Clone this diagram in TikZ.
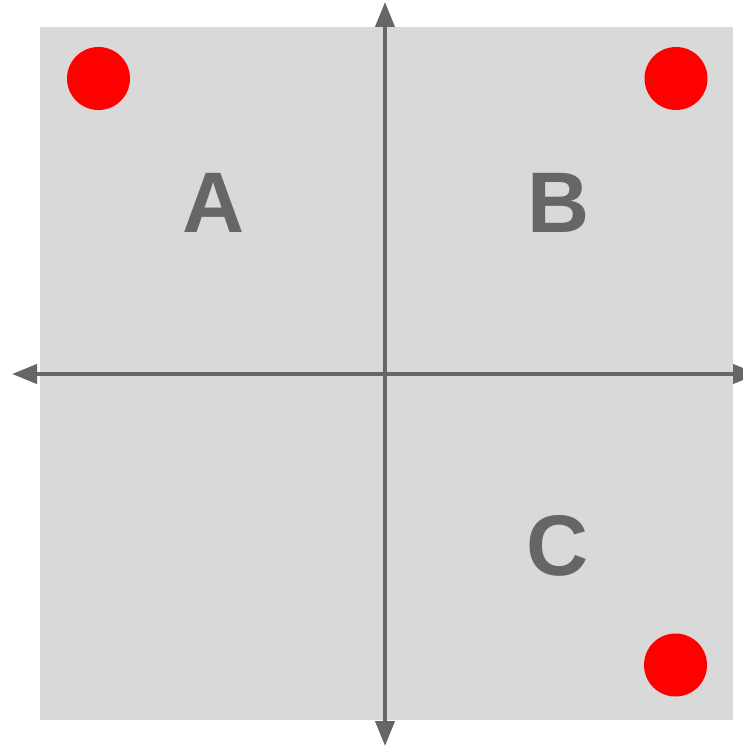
\documentclass[tikz,border=0pt]{standalone}
\usepackage{fontspec}
\setmainfont{Liberation Sans}
\usetikzlibrary{arrows.meta}
\definecolor{axisgray}{HTML}{666666}
\definecolor{boxgray}{HTML}{D9D9D9}
\tikzset{
  axis/.style={draw=axisgray, line width=4pt, -{Triangle[length=25pt,width=19pt]}},
  dot/.style={circle, fill=red, inner sep=0pt, minimum size=63pt},
  region/.style={text=axisgray, inner sep=0pt, font=\fontsize{86}{86}\selectfont\bfseries}
}

\begin{document}
\begin{tikzpicture}[x=1pt, y=-1pt]
\useasboundingbox (0,0) rectangle (743,746);
\fill [boxgray] (40,27) rectangle (733,720);
% axes
\coordinate (o) at (385,374);
\coordinate (top) at (385,2);
\coordinate (bottom) at (385,746);
\coordinate (left) at (12,374);
\coordinate (right) at (758,374);
\draw [axis] (o) -- (top);
\draw [axis] (o) -- (bottom);
\draw [axis] (o) -- (left);
\draw [axis] (o) -- (right);
% points
\node [dot] (p1) at (98.5,78.5) {};
\node [dot] (p2) at (676,78.5) {};
\node [dot] (p3) at (675.5,665) {};
\node [region] (A) at (214,203) {A};
\node [region] (B) at (559,203) {B};
\node [region] (C) at (558,546) {C};
\end{tikzpicture}
\end{document}
